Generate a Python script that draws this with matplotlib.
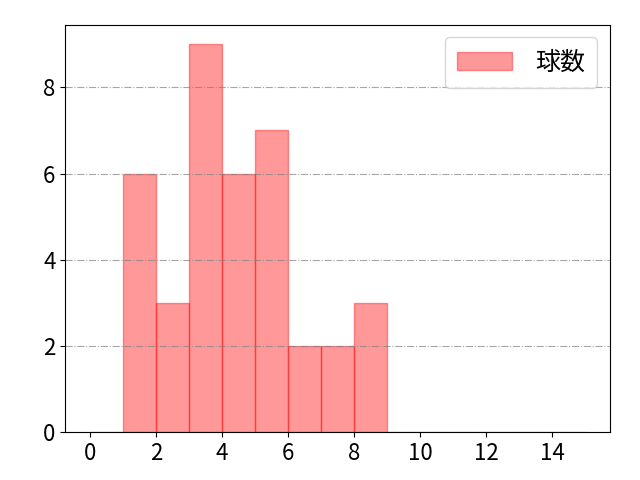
import numpy as np
import matplotlib
matplotlib.use("Agg")
import matplotlib.pyplot as plt

plt.rcParams['font.family'] = ['Noto Sans CJK JP', 'DejaVu Sans']

# pitch counts per bin (bin edges 0..15)
bin_edges = list(range(0, 16))
counts = [0, 6, 3, 9, 6, 7, 2, 2, 3, 0, 0, 0, 0, 0, 0]
label = "球数"

fig, ax = plt.subplots(figsize=(6.4, 4.8), dpi=100)
fig.subplots_adjust(left=0.102, right=0.953, top=0.948, bottom=0.1)
ax.hist(bin_edges[:-1], bins=bin_edges, weights=counts,
        color="red", alpha=0.4, edgecolor="red", linewidth=1, label=label)
ax.grid(axis="y", color="gray", linestyle="-.", linewidth=0.8, alpha=0.7)
ax.set_xticks(range(0, 16, 2))
ax.set_yticks(range(0, 10, 2))
ax.tick_params(labelsize=16)
ax.legend(fontsize=18, handlelength=2.2, handletextpad=0.9, borderpad=0.5)
fig.savefig("out.png")
